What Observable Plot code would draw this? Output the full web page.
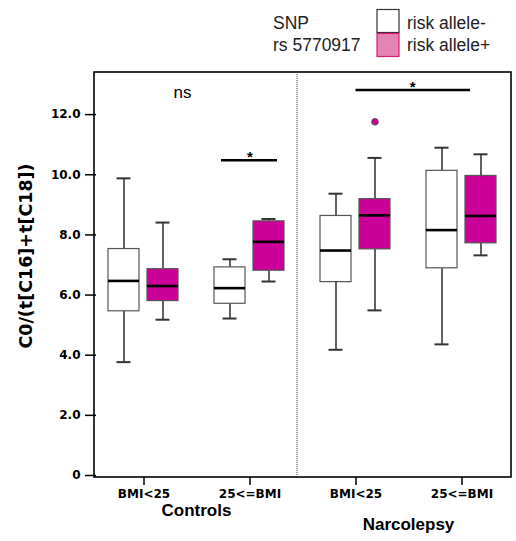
<!DOCTYPE html>
<html><head><meta charset="utf-8">
<script src="https://cdn.jsdelivr.net/npm/d3@7"></script>
<script src="https://cdn.jsdelivr.net/npm/@observablehq/plot@0.6"></script>
<style>
html,body{margin:0;padding:0;background:#fff;}
#chart svg{display:block;}
</style></head><body><div id="chart"></div>
<script>
// ---- data ----
const diseases = ["Controls", "Controls", "Narcolepsy", "Narcolepsy"];
const bmiClasses = ["BMI<25", "25<=BMI", "BMI<25", "25<=BMI"];
const alleles = ["risk allele-", "risk allele+"];
const alleleFills = ["#ffffff", "#cc0099"];
// box summaries per group: lower whisker, Q1, median, Q3, upper whisker
const lowerMinus = [3.77, 5.22, 4.18, 4.36];
const q1Minus    = [5.46, 5.71, 6.43, 6.89];
const medMinus   = [6.47, 6.23, 7.48, 8.16];
const q3Minus    = [7.53, 6.92, 8.63, 10.13];
const upperMinus = [9.88, 7.19, 9.37, 10.90];
const lowerPlus  = [5.18, 6.45, 5.49, 7.32];
const q1Plus     = [5.80, 6.81, 7.52, 7.72];
const medPlus    = [6.30, 7.77, 8.65, 8.63];
const q3Plus     = [6.86, 8.45, 9.19, 9.96];
const upperPlus  = [8.41, 8.53, 10.56, 10.68];
const outlierGroup = [2];
const outlierAllele = [1];
const outlierValue = [11.76];
const yTicks = [0, 2, 4, 6, 8, 10, 12];
const yLabel = "C0/(t[C16]+t[C18])";
const legendTitle = ["SNP", "rs 5770917"];
const nsLabel = "ns";
const nsValue = 12.73;
const starLabel = "*";
const controlsSigValue = 10.48;
const narcSigValue = 12.8;

// ---- tables built from the arrays ----
const groupKeys = diseases.map((d, i) => d + "|" + bmiClasses[i]);
const rows = [];
groupKeys.forEach((g, i) => {
  rows.push({group: g, allele: alleles[0], lo: lowerMinus[i], q1: q1Minus[i], med: medMinus[i], q3: q3Minus[i], hi: upperMinus[i]});
  rows.push({group: g, allele: alleles[1], lo: lowerPlus[i], q1: q1Plus[i], med: medPlus[i], q3: q3Plus[i], hi: upperPlus[i]});
});
const outliers = outlierValue.map((v, i) => ({group: groupKeys[outlierGroup[i]], allele: alleles[outlierAllele[i]], value: v}));

const W = 516, H = 541, mT = 72, mB = 64, mL = 94, mR = 5;
const sans = "'Liberation Sans', Arial, sans-serif";
const dejavu = "'DejaVu Sans', sans-serif";

const plot = Plot.plot({
  width: W, height: H,
  marginTop: mT, marginBottom: mB, marginLeft: mL, marginRight: mR,
  style: {fontFamily: dejavu, fontSize: "12px", fontWeight: "bold", color: "#000", background: "#fff", overflow: "visible"},
  fx: {domain: groupKeys, paddingInner: 0.1, paddingOuter: 0},
  x: {domain: alleles, paddingInner: 0.2, paddingOuter: 0.3, axis: null},
  y: {domain: [0, 13.4], insetBottom: 2},
  color: {domain: alleles, range: alleleFills},
  marks: [
    Plot.ruleX(rows, {fx: "group", x: "allele", y1: "lo", y2: "q1", stroke: "#3a3a3a", strokeWidth: 1.6}),
    Plot.ruleX(rows, {fx: "group", x: "allele", y1: "q3", y2: "hi", stroke: "#3a3a3a", strokeWidth: 1.6}),
    Plot.tickY(rows, {fx: "group", x: "allele", y: "lo", stroke: "#333", strokeWidth: 2, inset: 8.5}),
    Plot.tickY(rows, {fx: "group", x: "allele", y: "hi", stroke: "#333", strokeWidth: 2, inset: 8.5}),
    Plot.barY(rows, {fx: "group", x: "allele", y1: "q1", y2: "q3", fill: "allele", stroke: "#555", strokeWidth: 1.2}),
    Plot.tickY(rows, {fx: "group", x: "allele", y: "med", stroke: "#000", strokeWidth: 2.6}),
    Plot.dot(outliers, {fx: "group", x: "allele", y: "value", r: 3.3, fill: "allele", stroke: "#555", strokeWidth: 1}),
    Plot.ruleY([{group: groupKeys[1], v: controlsSigValue}], {fx: "group", y: "v", insetLeft: 19, insetRight: 20, stroke: "#000", strokeWidth: 2.6}),
    Plot.text([{group: groupKeys[1], v: controlsSigValue}], {fx: "group", y: "v", text: () => starLabel, lineAnchor: "bottom", dy: 2, fontSize: 15, fontFamily: sans, fontWeight: "bold"}),
    Plot.text([{group: groupKeys[0], v: nsValue}], {fx: "group", y: "v", text: () => nsLabel, frameAnchor: "right", lineAnchor: "middle", fontSize: 17, fontFamily: sans, fontWeight: "normal"}),
    Plot.axisY({anchor: "left", ticks: yTicks, tickFormat: d => d === 0 ? "0" : d.toFixed(1), tickSize: 11, tickPadding: 5, label: null, strokeWidth: 1.5, fontSize: 12, fontFamily: dejavu, fontWeight: "bold"}),
    Plot.axisFx({anchor: "bottom", tickFormat: k => k.split("|")[1], tickSize: 8, tickPadding: 4, label: null, strokeWidth: 1.5, fontSize: 12, fontFamily: dejavu, fontWeight: "bold"})
  ]
});

// ---- overlays positioned through Plot's own scales ----
const svg = d3.select(plot);
const fxS = plot.scale("fx"), yS = plot.scale("y");
const bw = fxS.bandwidth;
const center = k => fxS.apply(k) + bw / 2;

// outer frame
svg.append("rect")
  .attr("x", mL).attr("y", mT).attr("width", W - mL - mR).attr("height", H - mT - mB)
  .attr("fill", "none").attr("stroke", "#000").attr("stroke-width", 1.6);

// dotted divider between Controls and Narcolepsy
const divX = fxS.apply(groupKeys[1]) + bw;
svg.append("line")
  .attr("x1", divX).attr("x2", divX).attr("y1", mT).attr("y2", H - mB)
  .attr("stroke", "#333").attr("stroke-width", 1).attr("stroke-dasharray", "1,1");

// Narcolepsy significance bar (spans two facets)
const nx1 = center(groupKeys[2]);
const nx2 = fxS.apply(groupKeys[3]) + bw * 0.59;
const ny = yS.apply(narcSigValue);
svg.append("line")
  .attr("x1", nx1).attr("x2", nx2).attr("y1", ny).attr("y2", ny)
  .attr("stroke", "#000").attr("stroke-width", 2.6);
svg.append("text")
  .attr("x", (nx1 + nx2) / 2).attr("y", ny + 2)
  .attr("text-anchor", "middle").attr("font-family", sans).attr("font-weight", "bold").attr("font-size", 15)
  .text(starLabel);

// disease group labels
const diseaseNames = Array.from(new Set(diseases));
const labelBaselines = [516, 530];
diseaseNames.forEach((d, j) => {
  const cs = groupKeys.filter((k, i) => diseases[i] === d).map(center);
  svg.append("text")
    .attr("x", d3.mean(cs)).attr("y", labelBaselines[j])
    .attr("text-anchor", "middle").attr("font-family", sans).attr("font-weight", "bold").attr("font-size", 17)
    .text(d);
});

// y-axis title
svg.append("text")
  .attr("transform", "translate(32,256) rotate(-90)")
  .attr("text-anchor", "middle").attr("font-family", dejavu).attr("font-weight", "bold").attr("font-size", 17.5)
  .text(yLabel);

// legend
const lg = svg.append("g").attr("font-family", sans).attr("font-weight", "normal").attr("font-size", 17.5)
  .attr("fill", "#222").attr("text-anchor", "start");
lg.append("text").attr("x", 273).attr("y", 29).text(legendTitle[0]);
lg.append("text").attr("x", 273).attr("y", 50.5).text(legendTitle[1]);
const legendFills = ["#ffffff", "#e484b4"];
const legendStrokes = ["#333333", "#d91a72"];
alleles.forEach((a, i) => {
  lg.append("rect").attr("x", 377).attr("y", 9.5 + i * 24).attr("width", 22).attr("height", 23)
    .attr("fill", legendFills[i]).attr("stroke", legendStrokes[i]).attr("stroke-width", 1.2);
  lg.append("text").attr("x", 407).attr("y", 29 + i * 21.5).text(a);
});

document.getElementById("chart").appendChild(plot);
</script>
</body></html>
